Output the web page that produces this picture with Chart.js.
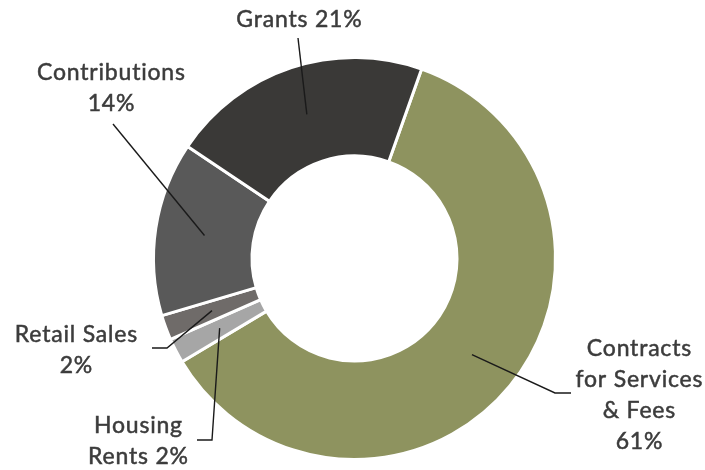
<!DOCTYPE html>
<html>
<head>
<meta charset="utf-8">
<script src="https://cdn.jsdelivr.net/npm/chart.js@4.4.1/dist/chart.umd.min.js"></script>
<style>
  body { margin: 0; background: #fff; }
  #wrap { width: 705px; height: 470px; position: relative; }
</style>
</head>
<body>
<div id="wrap"><canvas id="revenue_chart"></canvas></div>
<script>
// data
const categories = ["Contracts for Services & Fees", "Housing Rents", "Retail Sales", "Contributions", "Grants"];
const shares = [61, 2, 2, 14, 21];
const sliceColors = ["#8e935f", "#a6a6a6", "#6f6b69", "#595959", "#3a3937"];
const labelLines = [
  ["Contracts", "for Services", "& Fees", "61%"],
  ["Housing", "Rents 2%"],
  ["Retail Sales", "2%"],
  ["Contributions", "14%"],
  ["Grants 21%"]
];

// where the labels sit and how the leader lines bend (pixels)
const labelLayout = [
  { x: 639, y: 356, elbow: [[555, 393], [571, 393]] },
  { x: 138, y: 433, elbow: [[212, 440], [197, 440]] },
  { x: 76, y: 342, elbow: [[167, 348], [152, 348]] },
  { x: 111, y: 80, elbow: [[113, 124]] },
  { x: 299, y: 27, elbow: [[298, 38]] }
];

const calloutPlugin = {
  id: "callouts",
  afterDraw(chart) {
    const ctx = chart.ctx;
    const arcs = chart.getDatasetMeta(0).data;
    ctx.save();
    // leader lines start at the middle of each slice
    ctx.strokeStyle = "#1a1a1a";
    ctx.lineWidth = 1.4;
    arcs.forEach((arc, i) => {
      const p = arc.getCenterPoint();
      ctx.beginPath();
      ctx.moveTo(p.x, p.y);
      labelLayout[i].elbow.forEach(pt => ctx.lineTo(pt[0], pt[1]));
      ctx.stroke();
    });
    // labels (thin stroke to get the heavier look of the original)
    ctx.fillStyle = "#3c3c3c";
    ctx.strokeStyle = "#3c3c3c";
    ctx.lineWidth = 0.5;
    ctx.font = "23px Lato";
    ctx.letterSpacing = "0.8px";
    ctx.textAlign = "center";
    ctx.textBaseline = "alphabetic";
    labelLines.forEach((lines, i) => {
      lines.forEach((line, j) => {
        const x = labelLayout[i].x + 0.4;
        const y = labelLayout[i].y + j * 31;
        ctx.fillText(line, x, y);
        ctx.strokeText(line, x, y);
      });
    });
    ctx.restore();
  }
};

const chart = new Chart(document.getElementById("revenue_chart"), {
  type: "doughnut",
  data: {
    labels: categories,
    datasets: [
      {
        data: shares,
        backgroundColor: sliceColors,
        borderColor: "#ffffff",
        borderWidth: 3,
        hoverOffset: 0
      }
    ]
  },
  options: {
    responsive: true,
    maintainAspectRatio: false,
    animation: false,
    cutout: "51%",
    rotation: 19.5,
    layout: {
      padding: { left: 152, right: 148, top: 56, bottom: 9 }
    },
    plugins: {
      legend: { display: false },
      tooltip: { enabled: false }
    }
  },
  plugins: [calloutPlugin]
});
</script>
</body>
</html>
